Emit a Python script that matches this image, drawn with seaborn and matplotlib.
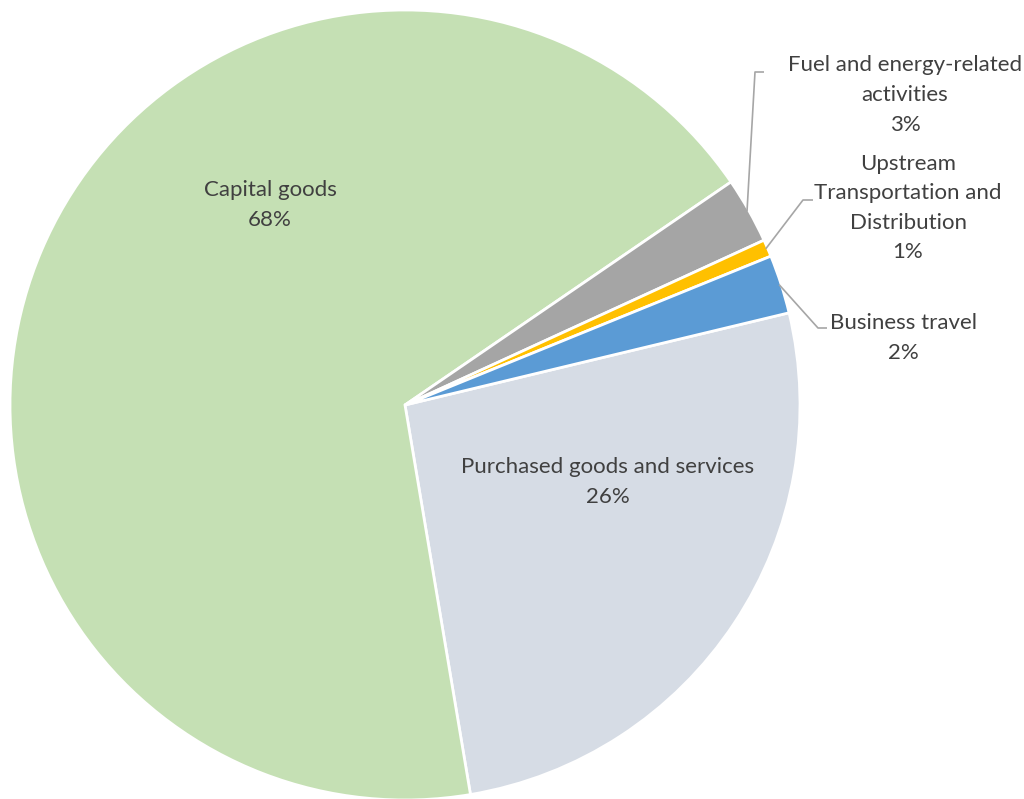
import numpy as np
import matplotlib
matplotlib.use("Agg")
import matplotlib.pyplot as plt
import seaborn as sns

categories = ["Purchased goods and services", "Capital goods",
              "Fuel and energy-related\nactivities",
              "Upstream\nTransportation and\nDistribution", "Business travel"]
values = [26.1, 68.1, 2.7, 0.7, 2.4]
colors = ["#D6DCE5", "#C5E0B4", "#A5A5A5", "#FFC000", "#5B9BD5"]

sns.set_theme(style="white")
plt.rcParams['font.family'] = ['Lato', 'DejaVu Sans']

W, H, DPI = 1024, 799, 100
cx, cy, R = 405, 405, 395
fig = plt.figure(figsize=(W / DPI, H / DPI), dpi=DPI)
ax = fig.add_axes([0, 0, 1, 1])

wedges, _ = ax.pie(values, colors=colors, startangle=13.5, counterclock=False,
                   radius=1.0, wedgeprops=dict(edgecolor='white', linewidth=2))

ax.set_aspect('auto')
ax.set_xlim(-cx / R, (W - cx) / R)
ax.set_ylim(-(H - cy) / R, cy / R)
ax.axis('off')

total = sum(values)
pct = [f"{round(v / total * 100):.0f}%" for v in values]
txtc = "#404040"
fs = 16
ls = 1.6

def px(x, y):
    return ((x - cx) / R, (cy - y) / R)

# inside labels
inside = {0: (608, 482), 1: (270, 205)}
for i, (x, y) in inside.items():
    ax.text(*px(x, y), f"{categories[i]}\n{pct[i]}", ha='center', va='center',
            fontsize=fs, color=txtc, linespacing=ls)

# outside labels with leader lines
outside = {
    2: ((905, 95), [(755, 72), (764, 72)]),
    3: ((908, 208), [(803, 200), (813, 200)]),
    4: ((903, 338), [(818, 328), (827, 328)]),
}
for i, ((tx, ty), pts) in outside.items():
    w = wedges[i]
    mid = np.deg2rad((w.theta1 + w.theta2) / 2)
    start = (0.995 * np.cos(mid), 0.995 * np.sin(mid))
    xs = [start[0]] + [px(*p)[0] for p in pts]
    ys = [start[1]] + [px(*p)[1] for p in pts]
    ax.plot(xs, ys, color="#A6A6A6", lw=1.2, solid_capstyle='butt')
    ax.text(*px(tx, ty), f"{categories[i]}\n{pct[i]}", ha='center', va='center',
            fontsize=fs, color=txtc, linespacing=ls)

fig.savefig("out.png", dpi=DPI, facecolor='white')
